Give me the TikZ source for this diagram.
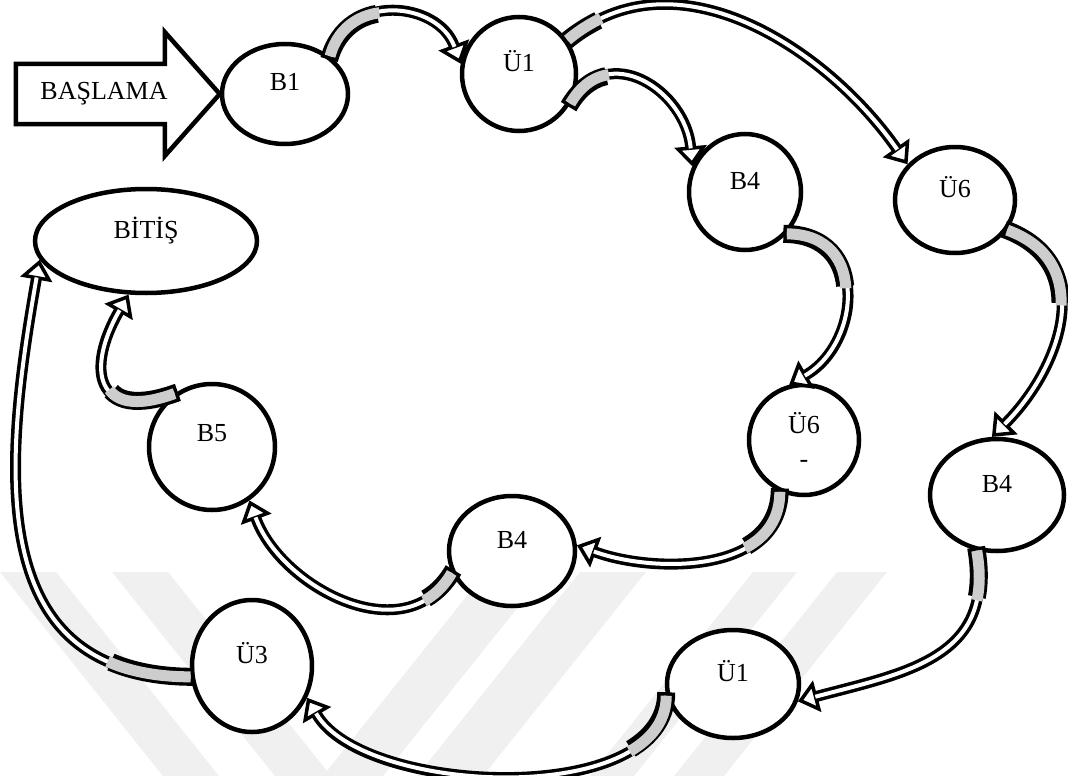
\documentclass[tikz,border=0pt]{standalone}
\usepackage{fontspec}
\setmainfont{Liberation Serif}
\usetikzlibrary{shapes.geometric,arrows.meta}

\definecolor{ribgray}{RGB}{205,205,205}
\definecolor{markgray}{RGB}{240,240,240}

\begin{document}
\begin{tikzpicture}[x=1pt,y=-1pt,
    stage/.style={ellipse, draw, fill=white, line width=4.5pt, inner sep=0pt,
      font=\fontsize{26}{34}\selectfont, text height=18pt, text depth=24pt},
    band/.style={draw=black, line width=11pt,
      -{Triangle[length=20pt,width=32pt,line width'=3.5pt,fill=white]}},
    bandstart/.style={draw=black, line width=18pt, shorten <=-3.5pt,
      dash pattern=on #1 off 3000pt},
    bandcore/.style={draw=white, line width=4pt, shorten >=18pt},
    bandback/.style={draw=ribgray, line width=11pt,
      dash pattern=on #1 off 3000pt}]
\useasboundingbox (0,0) rectangle (1068,776);
% light bands in the back
\foreach \a/\b/\c/\d in {0/56/219/163, 112/168/331/275, 486/546/383/323,
    580/646/483/417, 753/797/634/590, 837/887/724/674}
  \fill[markgray] (\a,572) -- (\b,572) -- (\c,776) -- (\d,776) -- cycle;

% stages
\node[stage, minimum width=126, minimum height=100] (b1) at (285,94) {B1};
\node[stage, minimum width=114, minimum height=114] (u1a) at (519,74) {Ü1};
\node[stage, minimum width=112, minimum height=116] (b4a) at (745,192) {B4};
\node[stage, minimum width=120, minimum height=106] (u6a) at (955,200) {Ü6};
\node[stage, minimum width=222, minimum height=104] (bitis) at (146,241) {BİTİŞ};
\node[stage, minimum width=126, minimum height=126, text depth=30pt] (b5) at (212,447) {B5};
\node[stage, minimum width=110, minimum height=110, text height=, text depth=,
  align=center] (u6b) at (804,440) {Ü6\\-};
\node[stage, minimum width=134, minimum height=112] (b4b) at (997,495) {B4};
\node[stage, minimum width=126, minimum height=110] (b4c) at (512,551) {B4};
\node[stage, minimum width=120, minimum height=132] (u3) at (252,666) {Ü3};
\node[stage, minimum width=132, minimum height=108] (u1b) at (733,684) {Ü1};

% start arrow
\draw[line width=4.5pt, fill=white] (b1.west) -- ++(-55,-62) -- ++(0,32) -- ++(-149,0)
  -- ++(0,60) -- ++(149,0) -- ++(0,32) -- cycle;
\node[font=\fontsize{26}{34}\selectfont] (start) at (104,94) {BAŞLAMA};

% curved arrows: from / out / in / to / looseness / grey part
\foreach \s/\o/\i/\e/\l/\g in {
    b1.40/75/110/u1a.170/1.3/70pt,
    u1a.35/40/125/u6a.143/1/40pt,
    u1a.-30/60/95/b4a.154/1.4/50pt,
    b4a.-45/0/30/u6b.105/1.4/90pt,
    u6a.-30/-20/45/b4b.95/1.2/100pt,
    b4b.-110/-80/15/u1b.-15/1.2/50pt,
    u1b.190/-90/-60/u3.-30/0.8/70pt,
    u3.190/180/-100/bitis.190/1.2/85pt,
    b4c.200/-120/-70/b5.-55/1.1/40pt,
    u6b.-115/-90/-20/b4c.5/1/70pt,
    b5.125/200/-120/bitis.-108/2/70pt}{
  \draw[band] (\s) to[out=\o,in=\i,looseness=\l] (\e);
  \draw[bandstart=\g] (\s) to[out=\o,in=\i,looseness=\l] (\e);
  \draw[bandcore] (\s) to[out=\o,in=\i,looseness=\l] (\e);
  \draw[bandback=\g] (\s) to[out=\o,in=\i,looseness=\l] (\e);
}
\end{tikzpicture}
\end{document}
